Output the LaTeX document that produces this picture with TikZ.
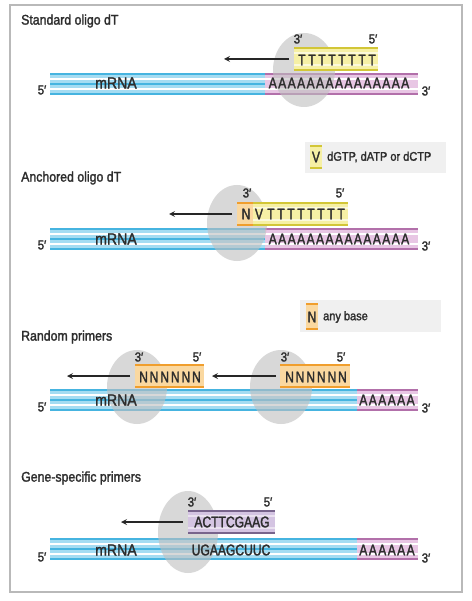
\documentclass[tikz,border=0pt]{standalone}
\usepackage{fontspec}
\setmainfont{Liberation Sans}[FakeStretch=0.88, FakeBold=1.8]
\newfontfamily\seqfont{Liberation Sans}[FakeStretch=0.78, FakeBold=1.8]
\usetikzlibrary{arrows, positioning}

\definecolor{rnadark}{RGB}{70,180,224}
\definecolor{rnalight}{RGB}{165,220,242}
\definecolor{polydark}{RGB}{178,112,170}
\definecolor{polylight}{RGB}{232,198,228}
\definecolor{oligodark}{RGB}{210,198,55}
\definecolor{oligolight}{RGB}{246,240,165}
\definecolor{randdark}{RGB}{240,158,45}
\definecolor{randlight}{RGB}{250,216,160}
\definecolor{gsdark}{RGB}{120,100,140}
\definecolor{gslight}{RGB}{212,196,226}
\definecolor{textgray}{RGB}{45,45,45}

\begin{document}
\begin{tikzpicture}[x=1pt, y=-1pt,
  title/.style={anchor=west, inner sep=0pt, text=textgray, font=\fontsize{14}{16}\selectfont},
  prime/.style={inner sep=0pt, text=textgray, font=\fontsize{13}{14}\selectfont},
  seq/.style={inner sep=0pt, text=textgray, font=\seqfont\fontsize{15.5}{16}\selectfont},
  rnalabel/.style={inner sep=0pt, text=textgray, font=\fontsize{16}{17}\selectfont},
  legend/.style={anchor=west, inner sep=0pt, text=textgray, font=\fontsize{12.5}{14}\selectfont},
  enzyme/.style={fill=gray!50, fill opacity=0.6},
  arr/.style={-stealth, line width=1.6pt, black!85},
  stripe/.style={white, line width=1.2pt}]

  \useasboundingbox (0,0) rectangle (471,601);
  \fill[white] (0,0) rectangle (471,601);
  \draw[gray!55, line width=1.2pt] (10,5) rectangle (462,592);

  % mRNA strands with poly(A) tails
  \foreach \t/\p in {73/265, 228/265, 389/357, 538/357}{
    \fill[rnalight] (50,\t) rectangle (\p,\t+22);
    \fill[polylight] (\p,\t) rectangle (418,\t+22);
    \draw[rnadark, line width=2.4pt] (50,\t+1.2) -- (\p,\t+1.2) (50,\t+11) -- (\p,\t+11) (50,\t+20.8) -- (\p,\t+20.8);
    \draw[polydark, line width=2.4pt] (\p,\t+1.2) -- (418,\t+1.2) (\p,\t+20.8) -- (418,\t+20.8);
    \draw[stripe] (50,\t+6) -- (418,\t+6) (50,\t+16) -- (418,\t+16);
  }

  % legends
  \fill[gray!12] (305,142) rectangle (446,173);
  \fill[oligolight] (310,147) rectangle (322,167);
  \draw[oligodark, line width=2pt] (310,146) -- (322,146) (310,168) -- (322,168);
  \node[seq] (legV) at (316,157) {V};
  \node[legend] (legVtxt) at (327,157) {dGTP, dATP or dCTP};

  \fill[gray!12] (300,300) rectangle (441,332);
  \fill[randlight] (306,305) rectangle (318,328);
  \draw[randdark, line width=2pt] (306,304) -- (318,304) (306,329) -- (318,329);
  \node[seq] (legN) at (312,317) {N};
  \node[legend] (legNtxt) at (323,317) {any base};

  % enzymes
  \fill[enzyme] (304,70) ellipse [x radius=31, y radius=37];
  \fill[enzyme] (237,223) ellipse [x radius=30, y radius=38];
  \fill[enzyme] (137,387) ellipse [x radius=30, y radius=37];
  \fill[enzyme] (281,387) ellipse [x radius=31, y radius=37];
  \fill[enzyme] (188,532) ellipse [x radius=30, y radius=41];

  % primers
  \fill[oligolight] (294,48) rectangle (378,70);
  \draw[oligodark, line width=2.4pt] (294,48) -- (378,48) (294,70) -- (378,70);
  \draw[stripe, white!60!oligolight] (294,53) -- (378,53) (294,65) -- (378,65);

  \fill[randlight] (237,203) rectangle (253,225);
  \fill[oligolight] (253,203) rectangle (348,225);
  \draw[randdark, line width=2.4pt] (237,203) -- (253,203) (237,225) -- (253,225);
  \draw[oligodark, line width=2.4pt] (253,203) -- (348,203) (253,225) -- (348,225);
  \draw[stripe, white!60!oligolight] (253,208) -- (348,208) (253,220) -- (348,220);

  \fill[randlight] (135,365) rectangle (204,387);
  \draw[randdark, line width=2.4pt] (135,365) -- (204,365) (135,387) -- (204,387);
  \fill[randlight] (280,365) rectangle (350,387);
  \draw[randdark, line width=2.4pt] (280,365) -- (350,365) (280,387) -- (350,387);

  \fill[gslight] (188,511) rectangle (275,533);
  \draw[gsdark, line width=2.4pt] (188,511) -- (275,511) (188,533) -- (275,533);
  \draw[stripe, white!50!gslight] (188,516) -- (275,516) (188,528) -- (275,528);

  % Standard oligo dT
  \node[title] (t1) at (21,21) {Standard oligo dT};
  \node[seq] (poly1) at (339,83) {\addfontfeature{LetterSpace=9}AAAAAAAAAAAAAAA};
  \node[seq] (dT1) at (337,60) {\addfontfeature{LetterSpace=17}TTTTTTTT};
  \node[prime] (p3a) at (298,39) {3′};
  \node[prime] (p5a) at (373,39) {5′};
  \node[rnalabel] (m1) at (116,83) {mRNA};
  \node[prime] (e5a) at (42,90) {5′};
  \node[prime] (e3a) at (426,91) {3′};
  \coordinate (a1s) at (289,59);
  \coordinate (a1e) at (224,59);
  \draw[arr] (a1s) -- (a1e);

  % Anchored oligo dT
  \node[title] (t2) at (21,178) {Anchored oligo dT};
  \node[seq] (poly2) at (339,239) {\addfontfeature{LetterSpace=9}AAAAAAAAAAAAAAA};
  \node[seq] (an) at (246,214) {N};
  \node[seq] (av) at (259,214) {V};
  \node[seq] (dT2) at (306,214) {\addfontfeature{LetterSpace=17}TTTTTTTT};
  \node[prime] (p3b) at (247,193) {3′};
  \node[prime] (p5b) at (340,193) {5′};
  \node[rnalabel] (m2) at (116,239) {mRNA};
  \node[prime] (e5b) at (42,245) {5′};
  \node[prime] (e3b) at (426,246) {3′};
  \coordinate (a2s) at (232,214);
  \coordinate (a2e) at (169,214);
  \draw[arr] (a2s) -- (a2e);

  % Random primers
  \node[title] (t3) at (21,337) {Random primers};
  \node[seq] (poly3) at (387,400) {\addfontfeature{LetterSpace=9}AAAAAA};
  \node[seq] (rn1) at (170,377) {\addfontfeature{LetterSpace=12}NNNNNN};
  \node[seq] (rn2) at (316,377) {\addfontfeature{LetterSpace=12}NNNNNN};
  \node[prime] (p3c) at (139,357) {3′};
  \node[prime] (p5c) at (197,357) {5′};
  \node[prime] (p3d) at (285,357) {3′};
  \node[prime] (p5d) at (341,357) {5′};
  \node[rnalabel] (m3) at (116,400) {mRNA};
  \node[prime] (e5c) at (42,407) {5′};
  \node[prime] (e3c) at (426,408) {3′};
  \coordinate (a3s) at (130,376);
  \coordinate (a3e) at (67,376);
  \draw[arr] (a3s) -- (a3e);
  \coordinate (a4s) at (276,376);
  \coordinate (a4e) at (212,376);
  \draw[arr] (a4s) -- (a4e);

  % Gene-specific primers
  \node[title] (t4) at (21,478) {Gene-specific primers};
  \node[seq] (poly4) at (387,550) {\addfontfeature{LetterSpace=9}AAAAAA};
  \node[seq] (gsp) at (232,522) {ACTTCGAAG};
  \node[seq] (gtarget) at (231,550) {UGAAGCUUC};
  \node[prime] (p3e) at (192,502) {3′};
  \node[prime] (p5e) at (268,502) {5′};
  \node[rnalabel] (m4) at (116,550) {mRNA};
  \node[prime] (e5d) at (42,557) {5′};
  \node[prime] (e3d) at (426,558) {3′};
  \coordinate (a5s) at (183,522);
  \coordinate (a5e) at (121,522);
  \draw[arr] (a5s) -- (a5e);
\end{tikzpicture}
\end{document}
